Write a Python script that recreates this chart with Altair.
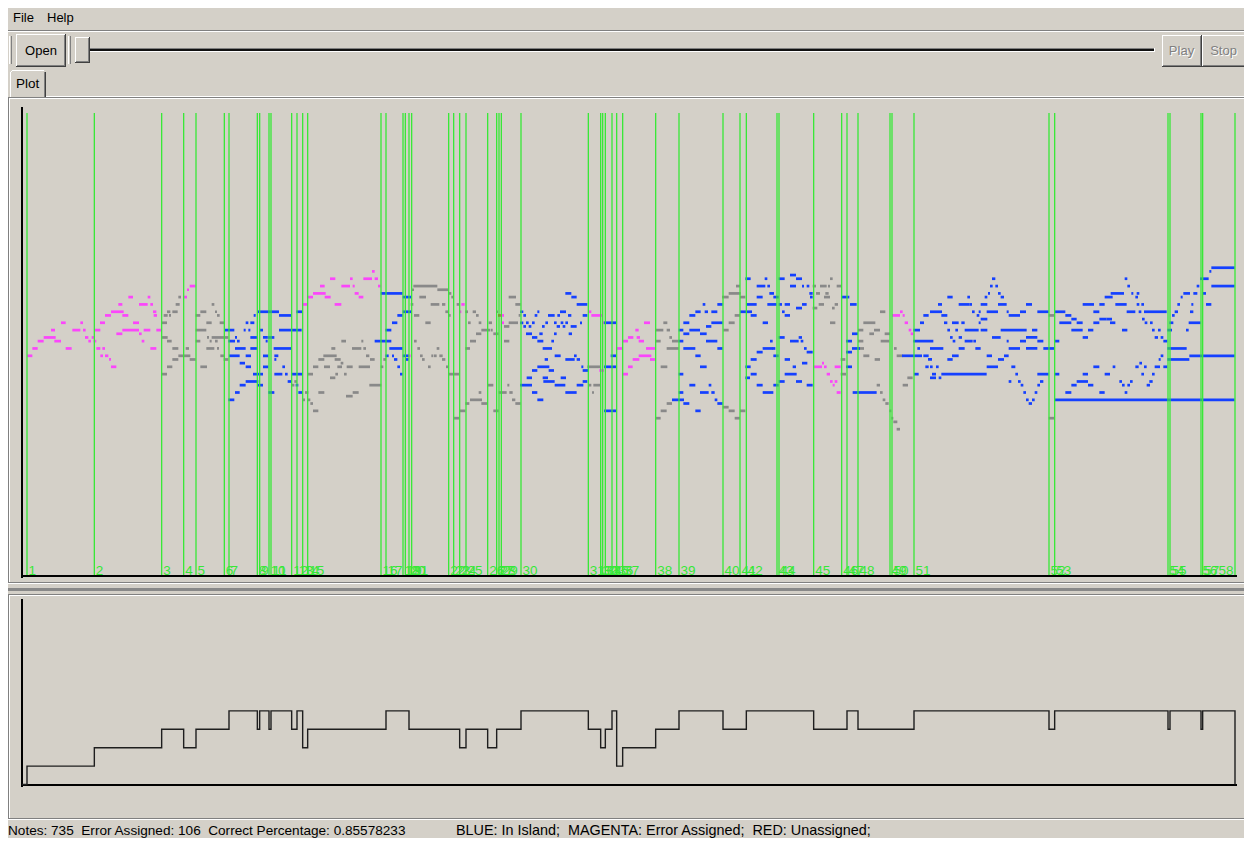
import altair as alt
import pandas as pd

# ------------------------------------------------------------------
# Data.
# Time is in "ticks"; the piece is shown in four passages, each note
# is (onset, release, MIDI pitch) relative to the passage start.
# ------------------------------------------------------------------
PASSAGE_START = [0, 915, 1845, 2745]

A_ERROR = [(36,52,60),(52,68,62),(68,86,64),(86,122,65),(108,120,67),(118,138,64),(138,152,69),
           (152,170,62),(172,196,67),(196,204,69),(204,212,67),(210,220,65),(220,228,64),(230,238,65),
           (236,244,64),(238,256,67),(244,256,62),(255,270,69),(256,264,60),(262,270,62),(270,280,60),
           (270,288,71),(282,288,59),(288,304,57),(288,326,72),(304,322,66),(310,322,74),(322,340,71),
           (322,372,67),(340,354,76),(354,372,69),(372,398,74),(372,380,66),(380,388,64),(386,406,67),
           (398,406,76),(406,414,74),(406,424,62),(414,424,72),(416,426,71),(424,438,67),(506,516,76),
           (516,522,78),(524,542,79),(862,876,74),(876,894,76),(894,932,77)]
A_ASSIGNED = [(440,456,69),(440,458,65),(440,456,55),(446,458,71),(456,466,72),(456,470,64),(456,472,57),
              (462,468,71),(472,488,72),(472,490,62),(472,490,59),(482,494,74),(490,498,76),(490,526,60),
              (512,522,62),(524,542,59),(542,574,67),(542,556,71),(542,556,64),(556,574,72),(556,576,57),
              (574,590,69),(574,598,62),(576,582,65),(584,590,64),(590,640,65),(590,598,74),(600,606,72),
              (600,608,64),(606,614,71),(606,612,62),(614,628,69),(616,628,60),(626,640,59),(830,838,52),
              (838,846,53),(862,870,48),(870,880,50),(878,886,48),(878,894,55),(886,894,47),(894,910,57),
              (894,910,45),(910,928,59),(910,928,50)]
A_ISLAND = [(628,658,67),(640,660,64),(642,674,60),(640,658,48),(660,692,62),(660,666,65),(666,674,64),
            (660,674,50),(674,690,58),(674,692,52),(686,692,67),(692,700,69),(692,708,60),(692,708,57),
            (692,730,53),(700,706,67),(706,718,69),(706,726,65),(706,726,62),(716,722,71),(714,744,55),
            (726,792,72),(726,744,52),(734,744,67),(744,758,65),(744,760,60),(744,760,57),(752,758,64),
            (758,778,65),(760,778,50),(776,828,62),(778,790,60),(778,784,59),(778,802,55),(792,860,67),
            (792,828,71),(802,810,57),(810,818,55),(818,830,53),(830,862,55),(842,850,52),(844,862,72),
            (850,862,50)]

B_ERROR = [(0,14,79),(14,32,76),(30,46,81),(44,64,74),(64,90,79),(90,98,81),(98,104,79),(104,116,77),
           (116,130,76),(130,156,81),(156,164,83),(164,174,81),(174,182,79),(264,272,60),(418,424,72),
           (424,434,74),(542,552,71),(544,552,69),(804,814,72),(814,846,71),(846,854,69),(838,852,56),
           (888,906,62),(906,924,64),(906,924,55),(924,940,65),(924,938,57)]
B_UNASSIGNED = [(534,542,71)]
B_ASSIGNED = [(10,50,60),(12,30,57),(30,46,54),(34,46,62),(44,62,59),(46,54,55),(52,66,57),(62,70,58),
              (64,78,64),(72,80,55),(78,98,49),(80,98,57),(96,124,62),(98,116,50),(116,150,57),(124,130,64),
              (130,138,62),(138,148,60),(148,184,52),(150,164,59),(182,190,57),(190,198,59),(272,280,74),
              (276,282,78),(280,352,79),(282,290,64),(282,298,71),(292,300,62),(298,318,76),(300,308,60),
              (306,314,59),(316,332,69),(324,332,57),(332,358,74),(334,340,60),(342,350,60),(350,358,62),
              (352,386,78),(358,368,60),(366,376,74),(366,376,59),(376,384,72),(378,386,57),(384,392,71),
              (386,394,77),(386,418,55),(394,402,76),(400,418,43),(410,418,74),(418,436,45),(436,444,72),
              (436,450,62),(436,448,47),(444,452,69),(450,468,64),(450,486,48),(458,468,72),(468,476,71),
              (468,484,66),(476,484,69),(476,484,50),(484,510,67),(484,502,47),(502,520,52),(506,516,69),
              (512,518,67),(520,536,66),(520,536,45),(528,534,72),(536,560,50),(552,568,68),(552,568,64),
              (562,568,52),(568,578,50),(566,588,76),(566,594,69),(576,586,48),(586,602,74),(586,602,47),
              (596,602,71),(802,840,57),(804,814,52),(816,822,50),(820,840,52)]
B_ISLAND = [(164,214,64),(182,248,77),(196,214,67),(196,206,60),(208,248,62),(216,232,69),(216,222,60),
            (222,232,59),(232,248,71),(232,240,57),(240,248,55),(248,274,76),(248,274,72),(248,266,60),
            (256,266,59),(600,610,72),(600,610,69),(600,636,52),(610,618,71),(610,618,68),(618,626,69),
            (618,636,66),(620,636,54),(626,634,68),(636,644,69),(636,652,65),(636,652,56),(636,652,50),
            (644,652,71),(652,658,72),(652,670,64),(652,688,57),(652,670,48),(658,668,66),(666,674,68),
            (668,696,62),(668,684,54),(670,704,53),(674,684,59),(676,684,69),(684,704,71),(686,702,56),
            (694,702,64),(702,710,66),(702,710,69),(704,722,60),(704,736,52),(710,720,68),(712,720,71),
            (720,738,72),(722,730,69),(722,738,54),(728,736,68),(736,744,69),(736,754,77),(736,764,59),
            (736,770,50),(744,754,71),(746,756,66),(752,770,68),(754,770,76),(762,770,60),(770,802,74),
            (770,780,59),(770,790,52),(780,786,69),(784,790,57),(788,802,71),(788,804,56),(788,802,53),
            (852,888,69),(852,888,57),(852,888,45),(872,888,60)]

C_ERROR = [(8,28,59),(16,26,67),(20,30,65),(26,42,64),(26,64,60),(42,60,69),(48,76,62),(60,76,59),
           (550,576,57),(576,582,58),(582,590,57),(590,600,55),(600,608,53),(608,614,52),(614,622,53),
           (614,632,57),(620,632,50),(786,810,71),(810,818,72),(818,824,71),(824,834,69),(836,844,67),
           (842,850,66)]
C_ASSIGNED = [(76,100,67),(76,92,64),(76,92,43),(92,112,57),(92,110,45),(100,112,69),(110,120,67),
              (110,146,62),(110,126,47),(118,126,65),(126,146,64),(276,296,76),(280,296,67),(278,296,46),
              (296,332,77),(296,314,69),(296,314,45),(314,330,71),(314,330,43),(318,330,79),(330,346,76),
              (330,346,45),(548,558,79),(548,562,73),(558,570,77),(566,582,74),(570,590,79),(582,600,76),
              (586,596,77),(594,600,79),(600,608,81),(600,616,69),(606,614,73),(614,624,74),(620,634,79),
              (632,646,59),(632,648,55),(684,700,67),(684,700,64),(684,702,62),(700,736,69),(700,718,60),
              (718,732,66),(732,750,67),(734,750,59),(740,750,52),(750,758,50),(750,766,72),(752,778,64),
              (758,766,48),(764,780,66),(766,776,47),(778,784,45),(784,790,43),(790,802,42),(792,800,62),
              (800,818,60),(800,810,40),(818,834,52),(832,848,54)]
C_ISLAND = [(146,160,67),(146,160,64),(146,160,55),(146,160,50),(126,162,48),(160,178,69),(160,178,66),
            (160,196,62),(160,178,47),(178,210,67),(178,196,71),(178,196,52),(196,212,72),(196,212,60),
            (196,212,45),(210,230,66),(210,230,57),(210,236,50),(218,226,74),(224,234,72),(228,244,68),
            (228,262,64),(236,244,52),(244,262,72),(244,278,69),(244,254,50),(254,262,48),(262,278,74),
            (262,278,62),(262,278,47),(330,366,72),(346,362,81),(346,362,57),(346,360,54),(350,380,74),
            (362,380,71),(362,380,59),(362,380,55),(380,406,79),(380,398,76),(380,398,61),(380,398,52),
            (398,428,62),(398,430,50),(398,414,69),(404,412,81),(412,420,79),(418,432,77),(420,428,64),
            (412,440,74),(426,436,62),(430,446,76),(430,446,60),(430,446,52),(446,464,81),(446,456,74),
            (446,464,65),(446,464,53),(456,464,72),(464,480,74),(464,480,71),(464,480,59),(464,500,55),
            (480,498,82),(480,498,79),(480,506,64),(488,498,57),(498,516,81),(498,516,73),(498,516,53),
            (506,516,65),(512,520,64),(516,522,79),(516,530,74),(516,532,58),(522,530,62),(530,538,79),
            (530,548,61),(530,548,52),(538,548,77),(540,548,76),(634,658,76),(648,666,64),(648,666,61),
            (648,666,57),(666,690,62),(660,680,74),(666,684,66),(668,740,50),(816,876,60),(850,870,67),
            (850,870,64),(852,866,55),(862,870,62),(870,882,69),(870,900,64),(880,896,71),(880,896,60),
            (886,896,57),(894,900,59)]

D_ASSIGNED = [(356,374,71),(356,374,43)]
D_ISLAND = [(0,36,72),(0,10,64),(0,40,62),(0,8,57),(0,18,54),(0,6,59),(6,18,55),(18,26,57),(24,36,74),
            (26,34,54),(34,170,55),(34,52,71),(42,52,69),(52,68,76),(52,68,59),(52,60,67),(60,68,65),
            (66,86,69),(66,86,60),(68,76,64),(76,84,67),(86,96,65),(86,104,62),(86,118,74),(94,104,69),
            (104,128,64),(104,146,67),(112,120,76),(118,126,74),(126,134,72),(130,138,64),(136,152,62),
            (140,148,71),(146,152,72),(146,152,69),(152,172,74),(152,172,70),(152,172,67),(164,172,76),
            (170,204,72),(170,186,60),(170,204,57),(174,180,77),(180,188,79),(186,196,81),(186,212,65),
            (196,204,79),(204,212,77),(204,230,74),(204,222,59),(212,222,76),(212,290,67),(222,236,60),
            (230,236,72),(230,236,64),(236,270,71),(236,270,62),(236,244,53),(244,256,57),(256,264,55),
            (264,272,53),(272,280,52),(270,288,72),(270,288,64),(280,288,50),(288,296,48),(288,322,65),
            (288,322,62),(288,306,74),(296,306,47),(306,314,48),(306,322,67),(314,322,50),(322,330,52),
            (322,356,72),(322,340,64),(322,356,55),(330,340,53),(340,374,62),(374,406,72),(374,388,64),
            (374,388,55),(374,914,48),(388,424,69),(406,424,71),(406,424,50),(424,440,70),(424,458,67),
            (424,440,52),(440,458,69),(440,474,53),(458,474,65),(458,474,55),(458,492,74),(474,490,67),
            (474,490,52),(490,508,72),(490,508,69),(490,508,57),(508,530,70),(508,524,74),(508,524,50),
            (524,540,55),(524,548,76),(530,546,70),(540,556,69),(548,556,57),(542,582,77),(556,590,74),
            (568,576,53),(576,592,67),(576,584,52),(584,592,50),(584,592,81),(592,600,79),(590,616,72),
            (592,600,52),(600,608,53),(604,610,77),(616,624,76),(616,626,57),(620,628,77),(620,628,74),
            (626,634,72),(628,636,58),(634,642,74),(634,642,55),(636,644,70),(642,650,57),(642,710,72),
            (644,652,69),(650,660,52),(658,668,53),(660,668,69),(666,674,55),(666,674,67),(674,690,57),
            (674,684,65),(684,692,67),(686,692,59),(692,700,60),(692,700,65),(700,712,57),(700,712,64),
            (712,770,62),(712,778,59),(712,726,67),(718,730,69),(726,734,71),(734,744,72),(742,750,74),
            (752,758,76),(760,780,77),(768,776,67),(776,812,69),(778,914,60),(780,790,72),(784,790,74),
            (790,802,77),(800,808,79),(810,836,81),(818,828,77),(828,844,74),(838,844,83),(844,914,84),
            (844,914,79)]

# segment boundaries (green lines) and number of voices after each boundary
BOUNDARY_TICKS = [36, 238, 440, 506, 543, 628, 642, 727, 734, 762, 768, 830, 846, 863, 878,
                  1098, 1113, 1164, 1171, 1182, 1190, 1301, 1316, 1334, 1353, 1418, 1445, 1452, 1459,
                  1518, 1720, 1757, 1763, 1771, 1791, 1805, 1823,
                  1922, 1992, 2124, 2175, 2194, 2286, 2292, 2396, 2480, 2496, 2529, 2625, 2631, 2697,
                  3102, 3119, 3459, 3465, 3558, 3563, 3660]
BOUNDARY_LABELS = [str(i) for i in range(1, 59)]
VOICES_AFTER = [1, 2, 3, 2, 3, 3, 4, 3, 4, 3, 4, 3, 4, 2, 3, 3, 4, 4, 4, 3,
                3, 3, 3, 2, 3, 2, 3, 3, 3, 4, 3, 2, 2, 3, 4, 1, 2, 3, 4, 3,
                3, 4, 4, 4, 3, 3, 4, 3, 3, 3, 4, 3, 4, 3, 4, 3, 4, 0]
TIME_START, TIME_END = 21, 3669

NB = "\u00a0"
STATUS_LEFT = f"Notes: 735 {NB}Error Assigned: 106 {NB}Correct Percentage: 0.85578233"
STATUS_RIGHT = f"BLUE: In Island; {NB}MAGENTA: Error Assigned; {NB}RED: Unassigned;"

# ------------------------------------------------------------------
FONT = "Liberation Sans"
BG = "#d4d0c8"
GREEN = "#36e836"
KIND_DOMAIN = ["assigned", "error", "island", "unassigned"]
KIND_COLORS = ["#898989", "#fb46fb", "#1440ff", "#e02020"]
M = 8  # page margin

rows = []
passages = [
    {"error": A_ERROR, "assigned": A_ASSIGNED, "island": A_ISLAND},
    {"error": B_ERROR, "assigned": B_ASSIGNED, "island": B_ISLAND, "unassigned": B_UNASSIGNED},
    {"error": C_ERROR, "assigned": C_ASSIGNED, "island": C_ISLAND},
    {"assigned": D_ASSIGNED, "island": D_ISLAND},
]
for start, groups in zip(PASSAGE_START, passages):
    for kind in KIND_DOMAIN:
        for s, e, p in groups.get(kind, []):
            rows.append({"on": start + s, "off": start + e, "hi": p + 0.37, "lo": p - 0.37, "kind": kind})
notes_df = pd.DataFrame(rows)

bound_df = pd.DataFrame({"tick": BOUNDARY_TICKS, "label": BOUNDARY_LABELS})
last_df = bound_df.tail(1)
bound_body = bound_df.head(len(bound_df) - 1)
step_df = pd.DataFrame({"tick": [TIME_START] + BOUNDARY_TICKS,
                        "voices": [0] + VOICES_AFTER})
step_df["seq"] = range(len(step_df))

XS = alt.Scale(domain=[TIME_START, TIME_END], range=[22 - M, 1238 - M])
YP = alt.Scale(domain=[0, 128], range=[576 - M, 576 - M - 128 * 3.67])
YV = alt.Scale(domain=[0, 10], range=[784.5 - M, 784.5 - M - 184])

SOLO = alt.Data(values=[{"k": 0}])


def hline(row, x1, x2, color, w=1):
    return alt.Chart(SOLO).mark_rule(color=color, strokeWidth=w).encode(
        x=alt.value(x1 - M), x2=alt.value(x2 - M + 1), y=alt.value(row - M + w / 2))


def vline(col, y1, y2, color, w=1):
    return alt.Chart(SOLO).mark_rule(color=color, strokeWidth=w).encode(
        x=alt.value(col - M + w / 2), y=alt.value(y1 - M), y2=alt.value(y2 - M + 1))


def box(x1, y1, x2, y2, color):
    return alt.Chart(SOLO).mark_rect(color=color).encode(
        x=alt.value(x1 - M), x2=alt.value(x2 - M + 1), y=alt.value(y1 - M), y2=alt.value(y2 - M + 1))


def txt(s, x, y, color="black", size=13, align="left", baseline="alphabetic"):
    return alt.Chart(SOLO).mark_text(text=s, font=FONT, fontSize=size, color=color,
                                     align=align, baseline=baseline).encode(
        x=alt.value(x - M), y=alt.value(y - M))


def raised(x1, y1, x2, y2):
    return [hline(y1, x1, x2 - 1, "white"), vline(x1, y1, y2 - 1, "white"),
            hline(y2 - 1, x1 + 1, x2 - 1, "#808080"), vline(x2 - 1, y1 + 1, y2 - 1, "#808080"),
            hline(y2, x1, x2, "#404040"), vline(x2, y1, y2, "#404040")]


chrome = []
# menu bar
chrome += [txt("File", 13, 22), txt("Help", 47, 22),
           hline(30, 0, 1252, "#808080"), hline(31, 0, 1252, "white")]
# toolbar
chrome += [vline(9, 36, 63, "white"), vline(11, 36, 63, "#808080"),
           vline(68, 36, 63, "white"), vline(70, 36, 63, "#808080")]
chrome += raised(16, 34, 65, 66)
chrome += [txt("Open", 41, 50.5, baseline="middle", align="center")]
chrome += [hline(48, 80, 1154, "#808080"), hline(49, 80, 1153, "#111111", 2),
           hline(51, 80, 1154, "white"), vline(1154, 48, 51, "white")]
chrome += [box(75, 37, 89, 62, BG)] + raised(75, 37, 89, 62)
chrome += raised(1162, 35, 1201, 66) + raised(1202, 35, 1245, 66)
chrome += [txt("Play", 1182.5, 51.5, color="white", align="center", baseline="middle"),
           txt("Play", 1181.5, 50.5, color="#808080", align="center", baseline="middle"),
           txt("Stop", 1224.5, 51.5, color="white", align="center", baseline="middle"),
           txt("Stop", 1223.5, 50.5, color="#808080", align="center", baseline="middle")]
# tab
chrome += [hline(70, 12, 43, "white"), vline(10, 72, 96, "white"), box(11, 71, 11, 71, "white"),
           vline(44, 72, 96, "#808080"), vline(45, 72, 96, "#404040"),
           txt("Plot", 16, 88, size=13.5), hline(96, 46, 1252, "white")]
# upper panel border
chrome += [hline(97, 8, 1248, "#808080"), hline(98, 9, 1247, "white"),
           vline(8, 97, 583, "#808080"), vline(9, 98, 582, "white"),
           hline(582, 9, 1247, "#808080"), hline(583, 8, 1248, "white")]
# split divider
chrome += [box(8, 588, 1248, 590, "#888888")]
# lower panel border
chrome += [hline(594, 8, 1248, "#808080"), hline(595, 9, 1247, "white"),
           vline(8, 594, 819, "#808080"), vline(9, 595, 818, "white"),
           hline(818, 9, 1247, "#808080"), hline(819, 8, 1248, "white")]
# status bar
chrome += [txt(STATUS_LEFT, 8, 835, size=13.6), txt(STATUS_RIGHT, 456, 835, size=14.4)]

notes = alt.Chart(notes_df).mark_rect().encode(
    x=alt.X("on:Q", scale=XS, axis=None), x2="off:Q",
    y=alt.Y("hi:Q", scale=YP, axis=None), y2="lo:Q",
    color=alt.Color("kind:N", scale=alt.Scale(domain=KIND_DOMAIN, range=KIND_COLORS), legend=None))

bounds = alt.Chart(bound_df).mark_rule(color=GREEN, strokeWidth=1.3).encode(
    x=alt.X("tick:Q", scale=XS, axis=None), y=alt.value(113 - M), y2=alt.value(576 - M))

labels = alt.Chart(bound_body).mark_text(color=GREEN, font=FONT, fontSize=13.5, align="left",
                                         baseline="alphabetic", dx=1.5).encode(
    x=alt.X("tick:Q", scale=XS, axis=None), y=alt.value(574.5 - M), text="label:N")
last_label = alt.Chart(last_df).mark_text(color=GREEN, font=FONT, fontSize=13.5, align="right",
                                          baseline="alphabetic", dx=-1.5).encode(
    x=alt.X("tick:Q", scale=XS, axis=None), y=alt.value(574.5 - M), text="label:N")

axes = [vline(21, 107, 577, "black", 2), hline(575, 21, 1236, "black", 2),
        vline(21, 599, 786, "black", 2), hline(784, 21, 1236, "black", 2)]

step = alt.Chart(step_df).mark_line(interpolate="step-after", color="#1e1e1e", strokeWidth=1.4).encode(
    x=alt.X("tick:Q", scale=XS, axis=None),
    y=alt.Y("voices:Q", scale=YV, axis=None),
    order="seq:Q")

chart = alt.layer(*chrome, notes, bounds, labels, last_label, *axes, step).resolve_scale(
    y="independent"
).properties(
    width=1236, height=830, padding=0, background=BG,
    autosize=alt.AutoSizeParams(type="none")
).configure_view(stroke=None)

chart.save("out.html", embed_options={"renderer": "svg", "actions": False})
